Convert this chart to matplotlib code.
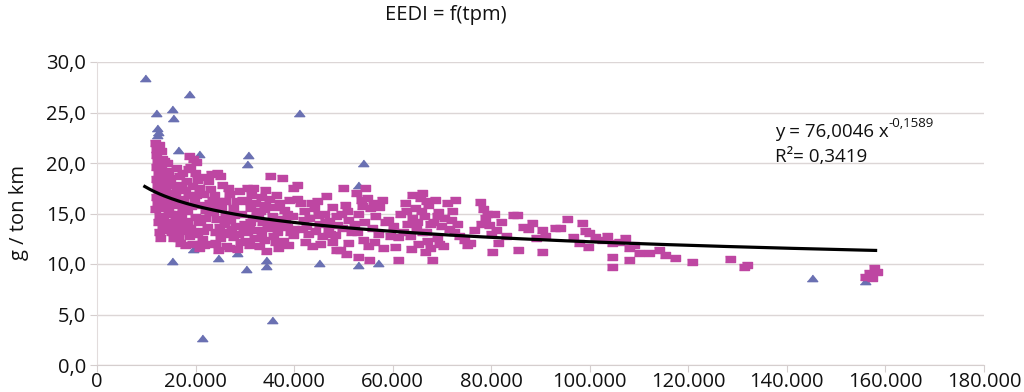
import matplotlib
matplotlib.use("Agg")
import matplotlib.pyplot as plt
import numpy as np
from matplotlib.ticker import FuncFormatter, MultipleLocator

plt.rcParams['font.family'] = ['Open Sans', 'DejaVu Sans']

# --- data (x in thousands of tpm, y in g / ton km) ---
sq_x = [11.8,12.0,11.9,12.2,12.0,12.3,11.9,12.1,12.4,12.0,12.2,11.8,12.5,12.3,12.6,12.9,13.1,13.0,13.3,13.0,13.4,13.1,13.5,13.3,13.8,14.2,12.8,
        14.2,14.5,14.8,15.0,14.6,15.3,15.6,14.9,15.8,16.2,16.5,15.5,16.8,17.0,16.0,16.6,17.2,15.2,14.3,17.5,16.0,16.6,17.1,14.0,16.4,17.9,
        18.7,19.5,18.9,19.8,20.3,19.2,20.6,18.5,19.6,20.8,18.2,19.9,21.0,18.8,20.2,21.3,19.3,20.7,21.5,22.0,20.0,21.2,18.0,17.8,
        22.5,23.0,23.8,24.5,22.8,25.2,23.5,26.0,24.2,25.7,27.0,22.3,23.9,26.5,28.0,25.0,27.5,24.0,29.0,26.2,28.5,24.4,25.3,26.8,28.2,27.5,29.3,29.8,30.5,28.8,22.0,23.1,21.8,24.9,23.2,26.5,27.2,22.7,25.5,26.7,24.6,
        30.2,31.0,32.0,33.0,34.0,35.0,36.0,37.0,38.0,39.0,31.5,33.5,35.5,37.5,39.5,30.8,32.5,34.5,36.5,38.5,31.8,33.8,35.8,37.8,39.8,32.8,34.2,36.8,38.8,30.0,40.0,35.1,37.6,30.4,31.7,34.1,39.8,40.6,32.7,36.8,38.6,33.2,30.9,
        41.2,42.0,43.0,44.0,45.0,46.0,47.0,47.7,48.5,49.5,50.3,51.0,41.5,42.8,44.2,45.6,46.8,48.2,49.8,51.5,42.2,43.6,45.2,47.6,48.5,49.3,51.0,50.0,41.8,44.6,46.5,43.5,50.5,
        52.5,53.5,54.8,55.5,56.5,57.8,53.0,54.2,55.8,57.0,58.5,59.0,52.8,54.0,55.0,56.3,58.0,53.0,54.4,52.2,59.5,55.2,
        60.5,61.0,61.5,62.5,63.0,63.5,64.5,64.8,65.2,65.5,66.0,66.3,66.8,67.2,67.5,68.0,68.2,68.6,69.0,69.3,69.8,70.2,70.5,71.0,71.5,72.0,72.7,73.0,73.5,62.0,63.8,66.5,60.0,64.0,
        74.5,75.0,75.7,76.5,77.7,78.3,78.8,79.5,80.2,80.5,81.0,81.4,82.0,83.0,84.5,85.3,85.5,86.5,87.5,88.3,89.0,90.3,90.3,91.0,93.0,94.0,95.4,96.5,97.9,98.5,99.0,99.7,
        99.9,101.0,102.5,103.5,104.5,104.5,104.5,106.0,107.2,108.0,108.0,109.0,110.0,112.0,114.0,115.3,117.3,120.8,128.5,131.3,132.0,155.9,156.7,157.3,157.7,158.3,
        12.6,12.7,12.5,12.8,12.6,13.2,13.7,13.9,14.0,13.6,14.4,14.7,15.1,15.9,16.3,16.9,17.5,17.9,18.3,18.6,19.0,19.4,20.1,20.5,21.0,21.6,17.3,18.4,
        23.4,24.0,24.8,25.9,26.2,27.8,28.6,29.5,29.6,31.2,32.3,33.3,34.8,35.5,36.2,37.2,38.1,39.1,31.0,33.9,36.3,40.5,42.5,44.8,46.2,47.2,48.8,50.8,
        64.0,65.0,65.8,66.8,67.6,68.9,66.0,67.0,69.5,71.8,72.4,78.0,79.2,80.0,61.0,62.8,57.2,56.0,53.8]
sq_y = [22.0,21.4,20.8,20.2,19.6,19.0,18.4,17.8,17.2,16.6,16.0,15.4,14.8,14.2,13.2,21.2,20.4,19.5,18.7,17.9,17.0,16.3,15.5,14.6,13.4,14.2,12.6,
        20.0,19.2,18.5,17.8,17.0,16.5,15.8,15.0,14.5,13.8,13.0,12.6,12.1,14.8,17.3,16.4,15.6,14.0,16.0,13.3,19.5,18.7,17.8,18.0,12.6,11.9,
        20.7,20.4,19.6,19.0,18.3,17.7,17.5,16.8,16.2,15.8,15.2,14.7,14.2,13.6,13.0,12.5,12.0,11.6,16.9,15.3,20.1,18.6,18.2,14.3,
        18.2,17.4,16.8,16.2,16.0,15.6,15.1,15.0,14.5,14.0,14.4,13.7,13.2,13.2,13.8,12.6,12.7,12.1,12.2,11.8,11.5,19.0,17.8,16.9,16.2,15.5,15.0,14.0,13.2,17.2,14.6,12.0,11.9,18.7,18.9,17.5,13.5,15.2,13.0,11.6,11.4,
        16.2,15.5,16.0,15.2,15.8,16.4,15.6,16.0,15.3,16.3,14.6,14.2,14.8,14.5,14.8,13.8,13.4,13.6,13.2,13.7,12.6,12.4,12.8,12.3,12.9,11.8,11.3,11.6,11.9,12.3,13.5,18.7,18.5,17.5,17.5,17.3,17.5,17.8,14.9,14.2,15.0,16.6,11.9,
        16.0,15.2,14.6,15.5,14.0,15.0,14.3,15.6,14.8,15.0,15.8,14.4,13.5,13.0,13.3,12.8,13.5,12.9,13.6,13.2,12.2,11.8,12.0,12.2,11.4,11.4,12.1,17.5,14.4,16.2,16.7,16.0,11.0,
        17.0,16.3,16.5,15.5,14.8,16.3,15.0,14.2,13.6,13.0,14.2,14.4,13.2,12.4,11.8,12.2,11.6,10.7,17.5,14.0,12.8,10.4,
        11.7,10.4,15.0,16.0,14.0,12.8,15.5,13.5,12.0,16.5,17.0,14.8,13.2,15.8,11.6,10.4,14.2,16.3,12.6,15.1,13.8,11.8,14.6,16.0,13.5,15.2,16.3,14.0,12.8,13.2,11.5,11.2,13.8,16.8,
        12.4,11.9,12.1,13.4,16.1,15.4,14.6,13.9,11.2,15.0,13.4,12.1,14.2,12.8,14.9,14.9,11.4,13.7,13.5,14.1,12.6,11.2,13.4,12.8,13.6,13.6,14.5,12.7,12.1,14.1,13.3,11.7,
        13.1,12.7,12.4,12.8,12.1,10.7,9.7,12.2,12.6,11.6,10.4,11.9,11.1,11.1,11.4,10.9,10.6,10.2,10.5,9.7,9.9,8.7,9.1,8.6,9.6,9.2,
        21.8,20.0,18.2,16.8,15.6,13.8,16.0,17.5,19.0,20.2,15.2,13.6,13.2,16.9,15.0,13.7,16.2,17.3,14.0,12.8,15.7,13.3,16.8,14.3,12.0,13.3,19.0,19.4,
        16.3,15.7,13.7,16.2,14.4,14.9,13.0,16.3,13.4,16.8,15.2,13.0,14.2,13.9,12.2,13.8,14.4,13.2,14.2,15.4,16.8,16.4,13.8,14.9,14.2,13.0,13.9,15.2,
        14.6,14.2,15.2,16.2,14.0,14.8,13.2,12.3,12.0,14.4,13.2,14.0,15.0,13.0,12.7,15.2,15.6,16.0,15.7]

tri_x = [9.7,12.0,15.2,15.4,12.2,12.3,12.2,18.7,16.4,20.7,30.7,30.4,41.0,54.0,53.0,15.2,19.5,24.6,28.4,30.2,34.3,34.3,21.3,35.5,45.0,53.0,57.0,145.1,155.9]
tri_y = [28.4,25.0,25.3,24.5,23.5,23.1,22.8,26.8,21.3,20.9,20.8,19.9,25.0,20.0,17.8,10.3,11.5,10.6,11.1,9.5,10.4,9.8,2.7,4.5,10.1,9.9,10.1,8.6,8.3]

# trendline shown on the chart: y = a * x^b
fit_a = 76.0046
fit_b = -0.1589
fit_r2 = 0.3419
fit_x_range = (9700, 158000)

title = "EEDI = f(tpm)"
ylabel = "g / ton km"

# --- figure ---
fig = plt.figure(figsize=(10.24, 3.92), dpi=100)
ax = fig.add_axes([97/1024, 1-365/392, (984-97)/1024, (365-62)/392])

sq_marker = [(-1, -0.62), (1, -0.62), (1, 0.62), (-1, 0.62)]
tri_marker = [(-1, -0.6), (1, -0.6), (0, 0.65)]

ax.plot(np.array(tri_x)*1000, tri_y, linestyle='none', marker=tri_marker,
        markersize=7.5, color='#6A70B2', zorder=2)
ax.plot(np.array(sq_x)*1000, sq_y, linestyle='none', marker=sq_marker,
        markersize=7.8, color='#BE46A2', zorder=3)

xf = np.linspace(fit_x_range[0], fit_x_range[1], 300)
ax.plot(xf, fit_a * xf**fit_b, color='black', linewidth=2.3, zorder=4)

ax.set_xlim(0, 180000)
ax.set_ylim(0, 30)
ax.xaxis.set_major_locator(MultipleLocator(20000))
ax.yaxis.set_major_locator(MultipleLocator(5))
ax.xaxis.set_major_formatter(FuncFormatter(lambda v, p: f"{int(round(v)):,}".replace(',', '.')))
ax.yaxis.set_major_formatter(FuncFormatter(lambda v, p: f"{v:.1f}".replace('.', ',')))

ax.grid(axis='y', color='#DCD6D6', linewidth=1.0, zorder=0)
ax.set_axisbelow(True)
for s in ['top', 'right']:
    ax.spines[s].set_visible(False)
ax.spines['left'].set_color('#E2DCDC')
ax.spines['bottom'].set_color('#D5CECE')
ax.tick_params(axis='both', colors='#D5CECE', labelcolor='#111111', labelsize=14.5, length=5)
ax.tick_params(axis='x', pad=0)
ax.tick_params(axis='y', pad=3)

fig.text(446/1024, 1-15/392, title, ha='center', va='center', fontsize=14.5, color='#111111')
fig.text(19/1024, 1-213/392, ylabel, ha='center', va='center', rotation=90, fontsize=14.5, color='#111111')

eq = fig.text(775/1024, 1-137/392, f"y = {fit_a:.4f} x".replace('.', ','), ha='left', va='baseline', fontsize=13.5, color='#111111')
ax.annotate(f"{fit_b:.4f}".replace('.', ','), xy=(1.0, 0.62), xycoords=eq, ha='left', va='bottom',
            fontsize=9.5, color='#111111')
fig.text(775/1024, 1-162/392, f"R²= {fit_r2:.4f}".replace('.', ','), ha='left', va='baseline', fontsize=13.5, color='#111111')

fig.savefig("out.png", dpi=100)
